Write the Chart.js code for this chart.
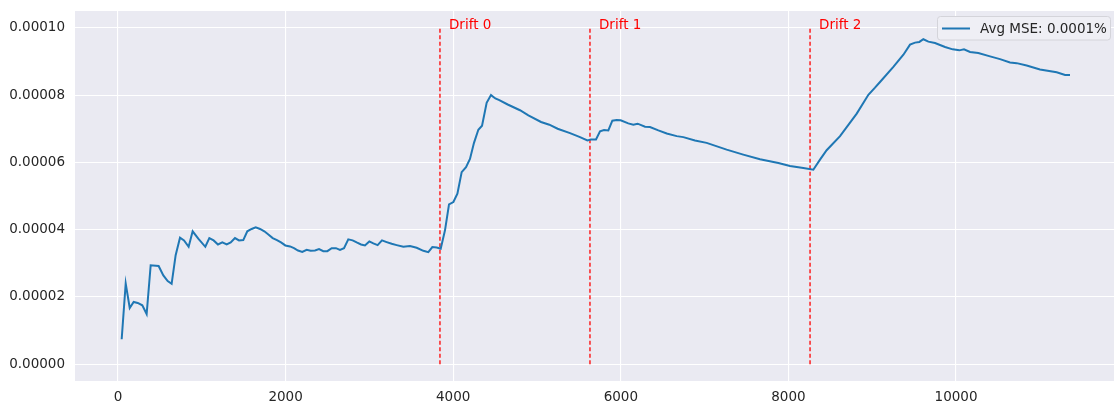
<!DOCTYPE html>
<html>
<head>
<meta charset="utf-8">
<script src="https://cdn.jsdelivr.net/npm/chart.js@4/dist/chart.umd.min.js"></script>
<style>
  html, body { margin: 0; padding: 0; background: #fff; }
  #wrap { width: 1114px; height: 410px; position: relative; }
</style>
</head>
<body>
<div id="wrap"><canvas id="myChart"></canvas></div>
<script>
// samples seen so far
var steps = [44, 92, 140, 187, 235, 290, 342, 390, 485, 541, 593, 640, 688, 740, 788, 843, 891, 958,
  1042, 1090, 1141, 1193, 1245, 1297, 1345, 1396, 1444, 1495, 1543, 1595, 1643, 1695, 1746, 1798, 1846, 1897, 1945, 1997,
  2053, 2100, 2148, 2199, 2251, 2299, 2351, 2399, 2450, 2498, 2550, 2601, 2649, 2697, 2748, 2800, 2848, 2900, 2947, 2999,
  3047, 3098, 3150, 3206, 3266, 3325, 3405, 3484, 3564, 3644, 3703, 3751, 3803, 3851, 3902, 3950,
  4002, 4050, 4101, 4153, 4200, 4248, 4300, 4344, 4399, 4451, 4503, 4550, 4650, 4797, 4897,
  5048, 5147, 5246, 5394, 5513, 5601, 5644, 5704, 5752, 5800, 5851, 5899, 5950, 5998,
  6089, 6149, 6201, 6289, 6348, 6448, 6548, 6667, 6746, 6885, 7024, 7263, 7461, 7661, 7880,
  8019, 8178, 8297, 8377, 8456, 8616, 8815, 8954, 9033, 9093, 9252, 9372, 9451, 9511, 9562, 9610, 9670, 9749, 9869, 9960,
  10040, 10095, 10167, 10266, 10406, 10525, 10644, 10724, 10843, 11002, 11201, 11301, 11360];

// running average MSE, in units of 1e-5
var avgMseE5 = [0.74, 2.40, 1.67, 1.85, 1.82, 1.75, 1.49, 2.94, 2.92, 2.64, 2.47, 2.39, 3.24, 3.76, 3.68, 3.49, 3.95, 3.73,
  3.49, 3.75, 3.68, 3.56, 3.62, 3.56, 3.62, 3.75, 3.68, 3.69, 3.95, 4.02, 4.07, 4.02, 3.95, 3.85, 3.75, 3.69, 3.62, 3.53,
  3.50, 3.45, 3.38, 3.34, 3.40, 3.37, 3.38, 3.42, 3.36, 3.36, 3.45, 3.45, 3.40, 3.45, 3.71, 3.68, 3.62, 3.56, 3.53, 3.65,
  3.59, 3.54, 3.68, 3.63, 3.58, 3.54, 3.49, 3.51, 3.46, 3.37, 3.33, 3.48, 3.47, 3.43, 3.98, 4.75,
  4.82, 5.07, 5.71, 5.86, 6.10, 6.58, 6.97, 7.09, 7.77, 8.00, 7.90, 7.85, 7.72, 7.55, 7.40,
  7.20, 7.12, 7.00, 6.87, 6.75, 6.65, 6.68, 6.68, 6.92, 6.96, 6.95, 7.24, 7.26, 7.25,
  7.16, 7.12, 7.15, 7.06, 7.05, 6.95, 6.86, 6.78, 6.75, 6.65, 6.58, 6.38, 6.23, 6.09, 5.98,
  5.89, 5.83, 5.78, 6.08, 6.36, 6.78, 7.45, 8.01, 8.22, 8.39, 8.84, 9.20, 9.50, 9.56, 9.58, 9.66, 9.59, 9.55, 9.43, 9.36,
  9.33, 9.36, 9.28, 9.25, 9.15, 9.07, 8.97, 8.95, 8.88, 8.76, 8.68, 8.60, 8.60];

var driftAt = [3842, 5632, 8258];
var driftNames = ['Drift 0', 'Drift 1', 'Drift 2'];

var xTicks = [0, 2000, 4000, 6000, 8000, 10000];
var yTicks = [0, 0.00002, 0.00004, 0.00006, 0.00008, 0.00010];

var legendLabel = 'Avg MSE: 0.0001%';

var FONT = 'DejaVu Sans';
var TXT = '#262626';

var lineData = steps.map(function(s, i) { return { x: s, y: avgMseE5[i] * 1e-5 }; });

var datasets = [{
  label: legendLabel,
  data: lineData,
  borderColor: '#1f77b4',
  borderWidth: 2,
  pointRadius: 0,
  tension: 0,
  order: 1
}];

driftAt.forEach(function(d, i) {
  datasets.push({
    label: driftNames[i],
    data: [{ x: d, y: 0 }, { x: d, y: 0.0001 }],
    borderColor: '#ff0000',
    borderWidth: 1.3,
    borderDash: [4, 2.5],
    pointRadius: 0,
    order: 2
  });
});

var bgPlugin = {
  id: 'bg',
  beforeDraw: function(chart) {
    var a = chart.chartArea, c = chart.ctx;
    c.save();
    c.fillStyle = '#EAEAF2';
    c.fillRect(a.left, a.top, a.right - a.left, a.bottom - a.top);
    c.restore();
  }
};

var labelPlugin = {
  id: 'extras',
  afterDraw: function(chart) {
    var c = chart.ctx, xs = chart.scales.x, ys = chart.scales.y;
    c.save();
    // drift labels
    c.font = '13.5px "' + FONT + '"';
    c.fillStyle = '#ff0000';
    c.textBaseline = 'alphabetic';
    driftAt.forEach(function(d, i) {
      c.fillText(driftNames[i], xs.getPixelForValue(d) + 9, ys.getPixelForValue(0.0001) + 1);
    });

    // legend box (upper right, inside the axes)
    var bx = 937, by = 16.5, bw = 173, bh = 23.5;
    c.beginPath();
    c.roundRect(bx + 0.5, by, bw, bh, 3);
    c.fillStyle = '#EFEFF5';
    c.fill();
    c.strokeStyle = '#d4d4da';
    c.lineWidth = 1;
    c.stroke();
    c.beginPath();
    c.moveTo(942, 28.5);
    c.lineTo(970, 28.5);
    c.strokeStyle = '#1f77b4';
    c.lineWidth = 2;
    c.stroke();
    c.fillStyle = TXT;
    c.textBaseline = 'middle';
    c.fillText(legendLabel, 980, 29);
    c.restore();
  }
};

var ctx = document.getElementById('myChart').getContext('2d');
var chart = new Chart(ctx, {
  type: 'line',
  data: { datasets: datasets },
  options: {
    responsive: true,
    maintainAspectRatio: false,
    animation: false,
    layout: { padding: { top: 11, right: 0, left: 0, bottom: 0 } },
    plugins: {
      legend: { display: false },
      tooltip: { enabled: false }
    },
    scales: {
      x: {
        type: 'linear',
        min: -513,
        max: 11885,
        afterBuildTicks: function(s) { s.ticks = xTicks.map(function(v) { return { value: v }; }); },
        afterFit: function(s) { s.height = 29; s.paddingLeft = 0; s.paddingRight = 0; },
        grid: { color: '#ffffff', lineWidth: 1.1, drawTicks: false },
        border: { display: false },
        ticks: {
          padding: 8,
          color: TXT,
          font: { family: FONT, size: 13.5 },
          maxRotation: 0,
          callback: function(v) { return String(v); }
        }
      },
      y: {
        min: -0.000005,
        max: 0.000105,
        afterBuildTicks: function(s) { s.ticks = yTicks.map(function(v) { return { value: v }; }); },
        afterFit: function(s) { s.width = 75; s.paddingTop = 0; s.paddingBottom = 0; },
        grid: { color: '#ffffff', lineWidth: 1.1, drawTicks: false },
        border: { display: false },
        ticks: {
          padding: 10,
          color: TXT,
          font: { family: FONT, size: 13.5 },
          callback: function(v) { return Number(v).toFixed(5); }
        }
      }
    }
  },
  plugins: [bgPlugin, labelPlugin]
});
</script>
</body>
</html>
